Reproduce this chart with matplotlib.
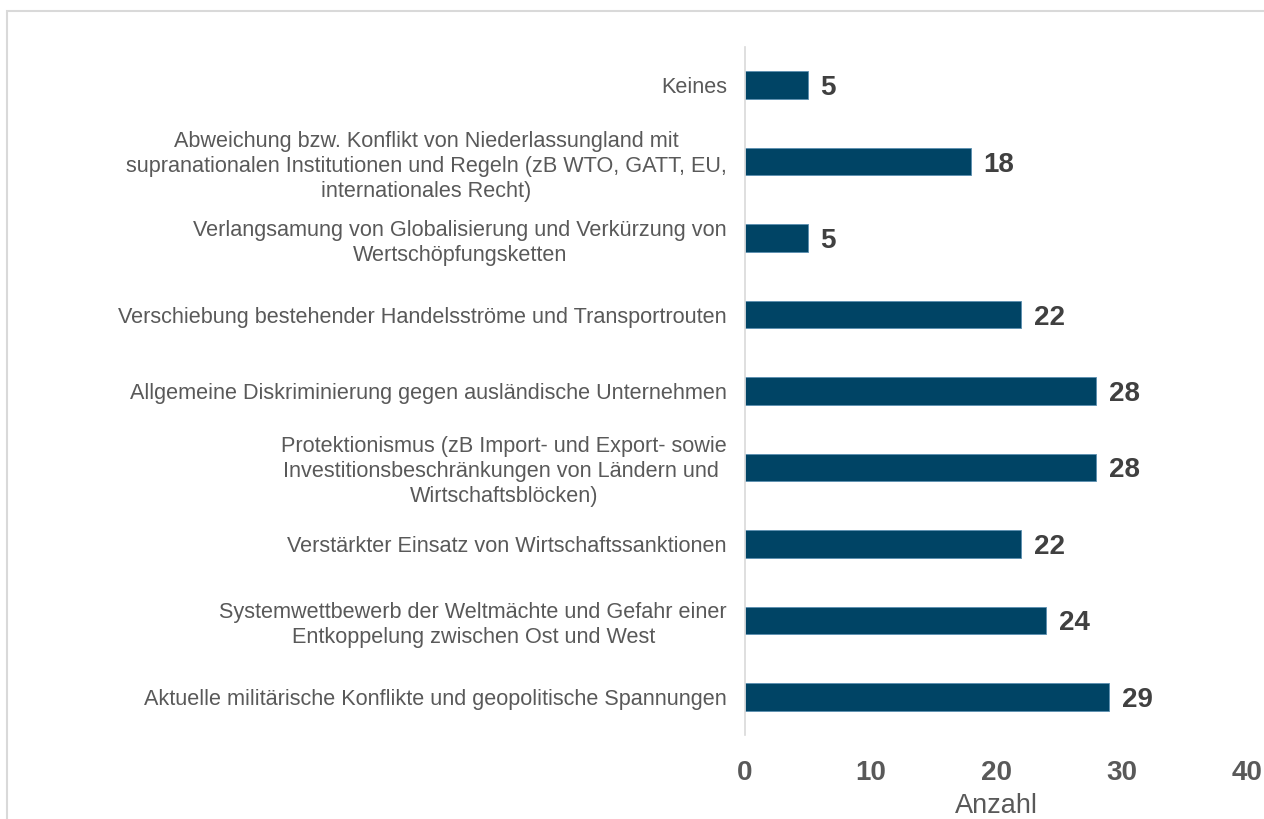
import matplotlib.pyplot as plt
from matplotlib.patches import Rectangle

plt.rcParams['font.family'] = ['Liberation Sans', 'DejaVu Sans']

labels = [
    "Keines",
    "Abweichung bzw. Konflikt von Niederlassungland mit\nsupranationalen Institutionen und Regeln (zB WTO, GATT, EU,\ninternationales Recht)",
    "Verlangsamung von Globalisierung und Verkürzung von\nWertschöpfungsketten",
    "Verschiebung bestehender Handelsströme und Transportrouten",
    "Allgemeine Diskriminierung gegen ausländische Unternehmen",
    "Protektionismus (zB Import- und Export- sowie\nInvestitionsbeschränkungen von Ländern und \nWirtschaftsblöcken)",
    "Verstärkter Einsatz von Wirtschaftssanktionen",
    "Systemwettbewerb der Weltmächte und Gefahr einer\nEntkoppelung zwischen Ost und West",
    "Aktuelle militärische Konflikte und geopolitische Spannungen",
]
values = [5, 18, 5, 22, 28, 28, 22, 24, 29]
xticks = [0, 10, 20, 30, 40]

bar_color = '#004465'
grey = '#595959'

fig = plt.figure(figsize=(12.64, 8.19), dpi=100)
ax = fig.add_axes([0.5894, 0.1026, 0.3972, 0.84])

# frame around the chart area
fig.patches.append(Rectangle((7 / 1264, -0.05), 1.1, 1 - 11 / 819 + 0.05,
                             transform=fig.transFigure, fill=False,
                             edgecolor='#d9d9d9', lw=1.5))

pos = range(len(values))
ax.barh(pos, values, height=0.36, color=bar_color, edgecolor='#5b8fb0', lw=0.6)
for p, v in zip(pos, values):
    ax.text(v + 1.0, p, str(v), va='center_baseline', ha='left', fontsize=20,
            fontweight='bold', color='#404040')

ax.set_ylim(len(values) - 0.5, -0.5)
ax.set_xlim(0, 40)
ax.set_yticks(list(pos))
ax.set_yticklabels(labels, fontsize=15.6, color=grey, multialignment='center',
                   linespacing=1.25)
ax.set_xticks(xticks)
ax.set_xticklabels([str(t) for t in xticks], fontsize=20, fontweight='bold',
                   color=grey)
ax.tick_params(axis='both', length=0)
ax.tick_params(axis='x', pad=18)
ax.tick_params(axis='y', pad=13)
for s in ['top', 'right', 'bottom']:
    ax.spines[s].set_visible(False)
ax.spines['left'].set_color('#d9d9d9')
ax.spines['left'].set_linewidth(1.2)
ax.set_xlabel('Anzahl', fontsize=19.5, color=grey, labelpad=5)

fig.savefig('out.png', dpi=100)
